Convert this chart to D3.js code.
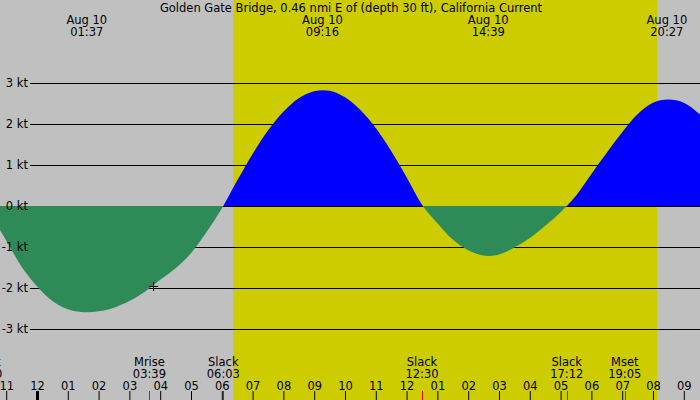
<!DOCTYPE html>
<html>
<head>
<meta charset="utf-8">
<script src="https://cdn.jsdelivr.net/npm/d3@7"></script>
<style>
  body { margin: 0; background: #fff; }
  svg { display: block; font-family: "DejaVu Sans", sans-serif; }
</style>
</head>
<body>
<svg id="chart" width="700" height="400"></svg>
<script>
// Current speed (kt), sampled every half hour; hours are counted from midnight Aug 10
const sampleHours = [
  -2, -1.5, -1, -0.5, 0, 0.5, 1, 1.5, 2, 2.5, 3, 3.5, 4, 4.5, 5, 5.5,
  6, 6.5, 7, 7.5, 8, 8.5, 9, 9.5, 10, 10.5, 11, 11.5, 12, 12.5, 13, 13.5,
  14, 14.5, 15, 15.5, 16, 16.5, 17, 17.5, 18, 18.5, 19, 19.5, 20, 20.5,
  21, 21.5, 22
];
const speeds = [
  0.42, -0.21, -0.84, -1.48, -1.96, -2.32, -2.52, -2.59, -2.57, -2.48, -2.32, -2.09, -1.80, -1.52, -1.15, -0.64,
  -0.06, 0.62, 1.27, 1.84, 2.30, 2.63, 2.80, 2.81, 2.65, 2.34, 1.90, 1.34, 0.70, 0.03, -0.42, -0.82,
  -1.08, -1.21, -1.18, -1.01, -0.78, -0.48, -0.15, 0.25, 0.78, 1.30, 1.80, 2.24, 2.52, 2.60,
  2.52, 2.25, 1.88
];

// Max flood / ebb labels along the top
const peakDates = ["Aug 10", "Aug 10", "Aug 10", "Aug 10"];
const peakTimes = ["01:37", "09:16", "14:39", "20:27"];

// Slack water and moon events along the bottom (day offset from Aug 10)
const eventNames = ["Slack", "Mrise", "Slack", "Slack", "Slack", "Mset"];
const eventTimes = ["22:20", "03:39", "06:03", "12:30", "17:12", "19:05"];
const eventDays = [-1, 0, 0, 0, 0, 0];

// Daylight
const sunrise = "06:22";
const sunset = "20:08";

// Axis ticks
const speedTicks = [-3, -2, -1, 0, 1, 2, 3];
const hourTicks = [-1, 0, 1, 2, 3, 4, 5, 6, 7, 8, 9, 10, 11, 12, 13, 14, 15, 16, 17, 18, 19, 20, 21];
const hourLabels = ["11", "12", "01", "02", "03", "04", "05", "06", "07", "08", "09", "10",
  "11", "12", "01", "02", "03", "04", "05", "06", "07", "08", "09"];

// "+" marker on the curve
const markHour = 3.77;
const markSpeed = -1.95;

const width = 700, height = 400;

function toHours(t, day) {
  const p = t.split(":");
  return (day || 0) * 24 + (+p[0]) + (+p[1]) / 60;
}

const x = d3.scaleLinear().domain([-37 / 30.8, 663 / 30.8]).range([0, width]);
const y = d3.scaleLinear().domain([-3, 3]).range([329, 83]);

const svg = d3.select("#chart");

// Night and day background
svg.append("rect").attr("width", width).attr("height", height).attr("fill", "#c0c0c0");
svg.append("rect")
  .attr("x", x(toHours(sunrise)))
  .attr("width", x(toHours(sunset)) - x(toHours(sunrise)))
  .attr("height", height)
  .attr("fill", "#cccc00");

// Grid lines (under the fill)
const grid = svg.append("g")
  .attr("transform", "translate(30,0)")
  .call(d3.axisLeft(y).tickValues(speedTicks).tickSize(-670).tickFormat(""));
grid.select(".domain").remove();
grid.selectAll("line").attr("stroke", "#000");

// Flood / ebb fill
const data = sampleHours.map((h, i) => ({ h: h, v: speeds[i] }));
const area = d3.area()
  .x(d => x(d.h))
  .y0(y(0))
  .y1(d => y(d.v))
  .curve(d3.curveCatmullRom);

const defs = svg.append("defs");
defs.append("clipPath").attr("id", "flood")
  .append("rect").attr("width", width).attr("height", y(0));
defs.append("clipPath").attr("id", "ebb")
  .append("rect").attr("y", y(0)).attr("width", width).attr("height", height - y(0));

svg.append("path").datum(data).attr("d", area)
  .attr("fill", "#0000ff").attr("clip-path", "url(#flood)");
svg.append("path").datum(data).attr("d", area)
  .attr("fill", "#2e8b57").attr("clip-path", "url(#ebb)");

// Speed labels (over the fill)
const yLabels = svg.append("g")
  .attr("transform", "translate(30,0)")
  .call(d3.axisLeft(y).tickValues(speedTicks).tickSize(0).tickPadding(2).tickFormat(d => d + " kt"));
yLabels.select(".domain").remove();
yLabels.attr("font-size", 11.5).attr("font-family", null);
yLabels.selectAll("text").attr("fill", "#000");

// Marker
svg.append("path")
  .attr("d", "M" + (x(markHour) - 4) + "," + (y(markSpeed) + 0.5) + "h9M" + (x(markHour) + 0.5) + "," + (y(markSpeed) - 4) + "v9")
  .attr("stroke", "#000").attr("fill", "none");

// Title
svg.append("text")
  .attr("x", 351).attr("y", 12)
  .attr("text-anchor", "middle")
  .attr("font-size", 11.5)
  .text("Golden Gate Bridge, 0.46 nmi E of (depth 30 ft), California Current");

// Peak labels
const peaks = svg.append("g").attr("font-size", 11.5).attr("text-anchor", "middle");
peakTimes.forEach(function (t, i) {
  const px = x(toHours(t));
  peaks.append("text").attr("x", px).attr("y", 24).text(peakDates[i]);
  peaks.append("text").attr("x", px).attr("y", 36).text(t);
});

// Event labels and red ticks
const events = svg.append("g").attr("font-size", 11.5).attr("text-anchor", "middle");
eventTimes.forEach(function (t, i) {
  const ex = x(toHours(t, eventDays[i]));
  events.append("text").attr("x", ex).attr("y", 366).text(eventNames[i]);
  events.append("text").attr("x", ex).attr("y", 378).text(t);
  events.append("line")
    .attr("x1", Math.round(ex) + 0.5).attr("x2", Math.round(ex) + 0.5)
    .attr("y1", 391).attr("y2", 400)
    .attr("stroke", "#ff0000");
});

// Hour axis
const hours = svg.append("g")
  .attr("transform", "translate(0,400)")
  .call(d3.axisTop(x).tickValues(hourTicks).tickSize(9).tickPadding(1)
    .tickFormat((d, i) => hourLabels[i]));
hours.select(".domain").remove();
hours.attr("font-size", 11.5).attr("font-family", null);
hours.selectAll("text").attr("fill", "#000");
hours.selectAll("line").attr("stroke", "#000")
  .attr("stroke-width", d => (d === 0 ? 3 : 1));
</script>
</body>
</html>
